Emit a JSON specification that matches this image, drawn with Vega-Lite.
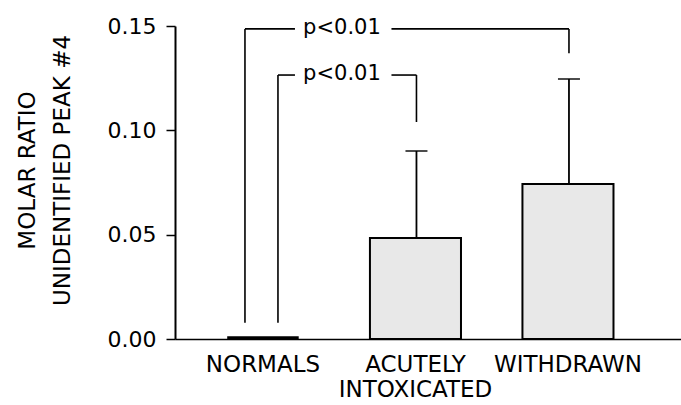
{
  "$schema": "https://vega.github.io/schema/vega-lite/v6.json",
  "autosize": "none",
  "width": 506,
  "height": 313,
  "padding": {"left": 175, "top": 26, "right": 0, "bottom": 66},
  "background": "white",
  "config": {
    "view": {"stroke": null},
    "font": "DejaVu Sans",
    "axis": {"labelFont": "DejaVu Sans", "titleFont": "DejaVu Sans", "labelColor": "black", "titleColor": "black", "domainColor": "black", "tickColor": "black", "grid": false}
  },
  "datasets": {
    "bars": [
      {"group": "NORMALS", "mean": 0.001, "upper": null},
      {"group": "ACUTELY INTOXICATED", "mean": 0.0484, "upper": 0.0901},
      {"group": "WITHDRAWN", "mean": 0.0743, "upper": 0.1246}
    ],
    "arms": [
      {"part": "right", "group": "ACUTELY INTOXICATED", "y1": 0.104, "y2": 0.1265},
      {"part": "right", "group": "WITHDRAWN", "y1": 0.137, "y2": 0.1486},
      {"part": "outerLeft", "group": "NORMALS", "y1": 0.0078, "y2": 0.1486},
      {"part": "innerLeft", "group": "NORMALS", "y1": 0.0078, "y2": 0.1265}
    ],
    "hsegs": [
      {"part": "outerLeft", "group": "NORMALS", "group2": "NORMALS", "y": 0.1486},
      {"part": "innerLeft", "group": "NORMALS", "group2": "NORMALS", "y": 0.1265},
      {"part": "right", "group": "ACUTELY INTOXICATED", "group2": "WITHDRAWN", "y": 0.1486},
      {"part": "right", "group": "ACUTELY INTOXICATED", "group2": "ACUTELY INTOXICATED", "y": 0.1265}
    ],
    "labels": [
      {"group": "NORMALS", "y": 0.1486, "text": "p<0.01"},
      {"group": "NORMALS", "y": 0.1265, "text": "p<0.01"}
    ]
  },
  "encoding": {
    "x": {
      "field": "group",
      "type": "nominal",
      "sort": ["NORMALS", "ACUTELY INTOXICATED", "WITHDRAWN"],
      "scale": {"type": "band", "domain": ["NORMALS", "ACUTELY INTOXICATED", "WITHDRAWN"], "paddingInner": 0.403, "paddingOuter": 0.3605, "align": 0.386},
      "axis": {"title": null, "labelAngle": 0, "ticks": false, "domainWidth": 1.5, "labelFontSize": 23, "labelPadding": 14, "labelLineHeight": 25, "labelBaseline": "top", "labelExpr": "split(datum.label, ' ')"}
    }
  },
  "layer": [
    {
      "data": {"name": "bars"},
      "transform": [{"filter": "datum.group !== 'NORMALS'"}],
      "mark": {"type": "bar", "fill": "#e8e8e8", "stroke": "black", "strokeWidth": 2},
      "encoding": {
        "y": {
          "field": "mean",
          "type": "quantitative",
          "scale": {"domain": [0, 0.15], "nice": false},
          "axis": {
            "values": [0, 0.05, 0.1, 0.15],
            "format": ".2f",
            "title": ["MOLAR RATIO", "UNIDENTIFIED PEAK #4"],
            "titleFontSize": 23,
            "titleFontWeight": "normal",
            "titleLineHeight": 35,
            "titleAngle": -90,
            "titleX": -141,
            "titleY": 144,
            "titleAlign": "center",
            "titleBaseline": "alphabetic",
            "labelFontSize": 22,
            "labelPadding": 10,
            "tickSize": 9,
            "tickWidth": 1.5,
            "domainWidth": 2
          }
        }
      }
    },
    {
      "data": {"name": "bars"},
      "transform": [{"filter": "datum.group === 'NORMALS'"}],
      "mark": {"type": "bar", "fill": "black", "stroke": "black", "strokeWidth": 1.5, "width": 70},
      "encoding": {"y": {"field": "mean", "type": "quantitative"}}
    },
    {
      "data": {"name": "bars"},
      "transform": [{"filter": "datum.upper != null"}],
      "mark": {"type": "rule", "color": "black", "strokeWidth": 1.8, "xOffset": 1},
      "encoding": {
        "y": {"field": "mean", "type": "quantitative"},
        "y2": {"field": "upper"}
      }
    },
    {
      "data": {"name": "bars"},
      "transform": [{"filter": "datum.upper != null"}],
      "mark": {"type": "tick", "color": "black", "size": 22, "thickness": 2, "orient": "horizontal", "xOffset": 1},
      "encoding": {"y": {"field": "upper", "type": "quantitative"}}
    },
    {
      "data": {"name": "arms"},
      "transform": [{"filter": "datum.part === 'right'"}],
      "mark": {"type": "rule", "color": "black", "strokeWidth": 1.6, "xOffset": 1},
      "encoding": {"y": {"field": "y1", "type": "quantitative"}, "y2": {"field": "y2"}}
    },
    {
      "data": {"name": "arms"},
      "transform": [{"filter": "datum.part === 'outerLeft'"}],
      "mark": {"type": "rule", "color": "black", "strokeWidth": 1.6, "xOffset": -18},
      "encoding": {"y": {"field": "y1", "type": "quantitative"}, "y2": {"field": "y2"}}
    },
    {
      "data": {"name": "arms"},
      "transform": [{"filter": "datum.part === 'innerLeft'"}],
      "mark": {"type": "rule", "color": "black", "strokeWidth": 1.6, "xOffset": 15},
      "encoding": {"y": {"field": "y1", "type": "quantitative"}, "y2": {"field": "y2"}}
    },
    {
      "data": {"name": "hsegs"},
      "transform": [{"filter": "datum.part === 'outerLeft'"}],
      "mark": {"type": "rule", "color": "black", "strokeWidth": 1.6, "xOffset": -18, "x2Offset": 32},
      "encoding": {"x2": {"field": "group2"}, "y": {"field": "y", "type": "quantitative"}}
    },
    {
      "data": {"name": "hsegs"},
      "transform": [{"filter": "datum.part === 'innerLeft'"}],
      "mark": {"type": "rule", "color": "black", "strokeWidth": 1.6, "xOffset": 15, "x2Offset": 32},
      "encoding": {"x2": {"field": "group2"}, "y": {"field": "y", "type": "quantitative"}}
    },
    {
      "data": {"name": "hsegs"},
      "transform": [{"filter": "datum.part === 'right'"}],
      "mark": {"type": "rule", "color": "black", "strokeWidth": 1.6, "xOffset": -24, "x2Offset": 1},
      "encoding": {"x2": {"field": "group2"}, "y": {"field": "y", "type": "quantitative"}}
    },
    {
      "data": {"name": "labels"},
      "mark": {"type": "text", "color": "black", "fontSize": 21, "align": "center", "baseline": "middle", "xOffset": 79, "dy": -1},
      "encoding": {"y": {"field": "y", "type": "quantitative"}, "text": {"field": "text"}}
    }
  ]
}
